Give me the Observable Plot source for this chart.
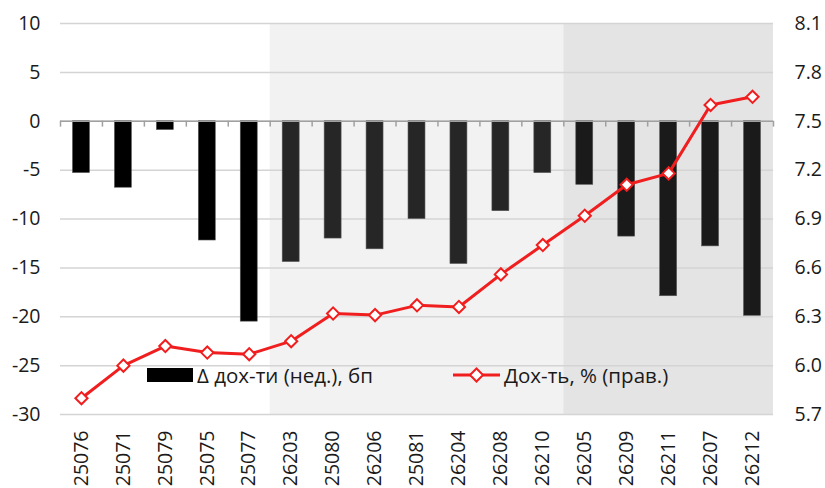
<!DOCTYPE html>
<html><head><meta charset="utf-8">
<script src="https://cdn.jsdelivr.net/npm/d3@7"></script>
<script src="https://cdn.jsdelivr.net/npm/@observablehq/plot@0.6"></script>
<style>
body{margin:0;background:#fff;}
#wrap{position:relative;width:825px;height:488px;font-family:"Open Sans",sans-serif;}
.legend{position:absolute;display:flex;align-items:center;font-size:20.5px;color:#1a1a1a;height:22px;}
.sw{display:inline-block;width:46px;height:14px;background:#000;margin-right:4px;}
</style></head><body><div id="wrap"></div>
<script>
// ---- data ----
const categories = ["25076","25071","25079","25075","25077","26203","25080","26206","25081","26204","26208","26210","26205","26209","26211","26207","26212"];
const delta = [-5.3,-6.8,-0.9,-12.2,-20.5,-14.4,-12.0,-13.1,-10.0,-14.6,-9.2,-5.3,-6.5,-11.8,-17.9,-12.8,-19.9];
const yields = [5.80,6.00,6.12,6.08,6.07,6.15,6.32,6.31,6.37,6.36,6.56,6.74,6.92,7.11,7.18,7.60,7.65];
const zoneStarts = [0,5,12];
const leftTicks = [-30,-25,-20,-15,-10,-5,0,5,10];
const rightTicks = [5.7,6.0,6.3,6.6,6.9,7.2,7.5,7.8,8.1];
const seriesNames = ["\u0394 дох-ти (нед.), бп","Дох-ть, % (прав.)"];

// ---- styling ----
const zoneBg = ["#ffffff","#f2f2f2","#e4e4e4"];
const barFill = ["#000000","#262626","#1a1a1a"];
const red = "#f01e1e";

const L0 = leftTicks[0], L1 = leftTicks[leftTicks.length-1];
const R0 = rightTicks[0], R1 = rightTicks[rightTicks.length-1];
const toLeft = v => L0 + (v - R0) * (L1 - L0) / (R1 - R0);
const fromLeft = v => R0 + (v - L0) * (R1 - R0) / (L1 - L0);
const zoneOf = i => { let z = 0; zoneStarts.forEach((s,k)=>{ if (i >= s) z = k; }); return z; };

const data = categories.map((c,i)=>({i, cat:c, delta:delta[i], yld:yields[i], zone:zoneOf(i)}));
const zones = zoneStarts.map((s,k)=>({k, x1:s, x2: k+1 < zoneStarts.length ? zoneStarts[k+1] : categories.length}));

const plot = Plot.plot({
  width:825, height:488,
  marginLeft:60, marginRight:52, marginTop:23, marginBottom:74,
  style:{fontFamily:"Open Sans, sans-serif", fontSize:"19.5px", color:"#1a1a1a", background:"transparent"},
  x:{domain:[0,categories.length], axis:null},
  y:{domain:[L0,L1], axis:null},
  marks:[
    Plot.rect(zones,{x1:"x1", x2:"x2", y1:L0, y2:L1, fill:d=>zoneBg[d.k]}),
    Plot.ruleY(leftTicks,{stroke:"#d4d4d4", strokeWidth:1.5}),
    Plot.rectY(data,{x1:"i", x2:d=>d.i+1, y:"delta", fill:d=>barFill[d.zone], stroke:"#555", strokeWidth:0.6, insetLeft:12.5, insetRight:12.5}),
    Plot.ruleY([0],{stroke:"#a0a0a0", strokeWidth:1.5}),
    Plot.ruleX(d3.range(categories.length+1),{x:d=>d, y1:0, y2:-0.6, stroke:"#a0a0a0", strokeWidth:1.5}),
    Plot.line(data,{x:d=>d.i+0.5, y:d=>toLeft(d.yld), stroke:red, strokeWidth:3}),
    Plot.dot(data,{x:d=>d.i+0.5, y:d=>toLeft(d.yld), symbol:"diamond2", r:5.5, fill:"white", stroke:red, strokeWidth:2}),
    Plot.axisY(leftTicks,{anchor:"left", label:null, tickSize:0, tickPadding:20, tickFormat:d=>String(d)}),
    Plot.axisY(rightTicks.map(toLeft),{anchor:"right", label:null, tickSize:0, tickPadding:21, tickFormat:d=>fromLeft(d).toFixed(1)}),
    Plot.axisX(categories.map((c,i)=>i+0.5),{anchor:"bottom", label:null, tickSize:0, tickPadding:16, tickRotate:-90, tickFormat:v=>categories[Math.floor(v)]})
  ]
});
const wrap = document.getElementById("wrap");
wrap.appendChild(plot);

const lg1 = document.createElement("div");
lg1.className = "legend";
lg1.style.left = "147px"; lg1.style.top = "364px";
lg1.innerHTML = `<span class="sw"></span><span>${seriesNames[0]}</span>`;
wrap.appendChild(lg1);

const lg2 = document.createElement("div");
lg2.className = "legend";
lg2.style.left = "453px"; lg2.style.top = "364px";
lg2.innerHTML = `<svg width="47" height="22" style="margin-right:4px"><line x1="0" y1="11" x2="47" y2="11" stroke="${red}" stroke-width="3"/><path d="M23.5,4.5 L30,11 L23.5,17.5 L17,11 Z" fill="white" stroke="${red}" stroke-width="2"/></svg><span>${seriesNames[1]}</span>`;
wrap.appendChild(lg2);
</script></body></html>
